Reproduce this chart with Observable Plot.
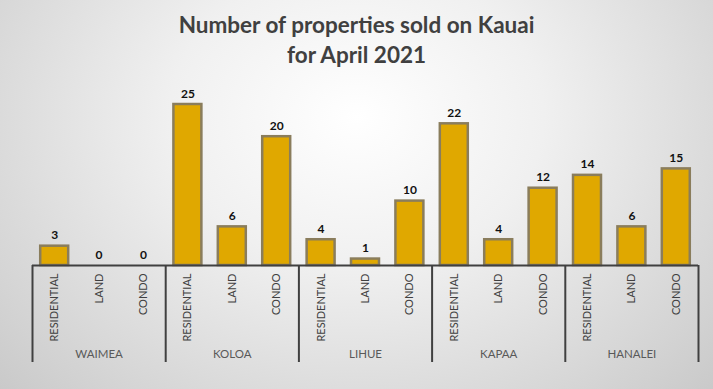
<!DOCTYPE html>
<html>
<head>
<meta charset="utf-8">
<script src="https://cdn.jsdelivr.net/npm/d3@7"></script>
<script src="https://cdn.jsdelivr.net/npm/@observablehq/plot@0.6"></script>
<style>
  html, body { margin: 0; padding: 0; }
  body {
    width: 713px; height: 389px; overflow: hidden;
    background: radial-gradient(ellipse 75% 110% at 50% 30%, #ffffff 0%, #f0f0f0 35%, #d2d2d2 80%, #c4c4c4 100%);
  }
  #title {
    height: 72px; box-sizing: border-box; padding-top: 10px;
    text-align: center; font-family: Lato, "Open Sans", sans-serif; font-weight: bold;
    font-size: 22.5px; line-height: 30px; color: #404040;
  }
  svg { display: block; background: transparent; }
</style>
</head>
<body>
<div id="title">Number of properties sold on Kauai<br>for April 2021</div>
<div id="chart"></div>
<script>
const regions = ["WAIMEA", "KOLOA", "LIHUE", "KAPAA", "HANALEI"];
const types = ["RESIDENTIAL", "LAND", "CONDO"];
const residential = [3, 25, 4, 22, 14];
const land = [0, 6, 1, 4, 6];
const condo = [0, 20, 10, 12, 15];

const seriesByType = {RESIDENTIAL: residential, LAND: land, CONDO: condo};
const data = [];
regions.forEach((r, i) => types.forEach(t => data.push({region: r, type: t, key: r + "|" + t, value: seriesByType[t][i]})));
const keys = data.map(d => d.key);

const width = 713, height = 317;
const marginLeft = 32, marginRight = 15, marginTop = 32, marginBottom = 124;
const step = (width - marginLeft - marginRight) / keys.length;

const chart = Plot.plot({
  width, height, marginLeft, marginRight, marginTop, marginBottom,
  style: {background: "transparent", fontFamily: "Lato, 'Open Sans', sans-serif"},
  x: {type: "band", domain: keys, paddingInner: 0.37, paddingOuter: 0.185, round: false, axis: null},
  y: {domain: [0, 25], axis: null},
  marks: [
    Plot.barY(data, {x: "key", y: "value", fill: "#E0A800", stroke: "#8A7D5C", strokeWidth: 2.5}),
    Plot.text(data, {x: "key", y: "value", text: d => String(d.value), lineAnchor: "bottom", dy: -7,
      fontWeight: "bold", fontSize: 12, fill: "#111"}),
    Plot.ruleY([0], {stroke: "#404040", strokeWidth: 2}),
    Plot.ruleX(regions.map(r => r + "|RESIDENTIAL"), {x: d => d, dx: -step / 2, y1: 0, y2: 0, insetBottom: -97, stroke: "#404040", strokeWidth: 2}),
    Plot.ruleX(regions.slice(-1).map(r => r + "|CONDO"), {x: d => d, dx: step / 2, y1: 0, y2: 0, insetBottom: -97, stroke: "#404040", strokeWidth: 2}),
    Plot.axisX({domain: keys, tickSize: 0, tickRotate: -90, tickPadding: 8, tickFormat: d => d.split("|")[1],
      fontSize: 11, fill: "#404040", label: null}),
    Plot.text(regions, {x: r => r + "|LAND", y: 0, text: d => d, dy: 89, fontSize: 11.5, fill: "#595959"})
  ]
});
document.getElementById("chart").appendChild(chart);
</script>
</body>
</html>
